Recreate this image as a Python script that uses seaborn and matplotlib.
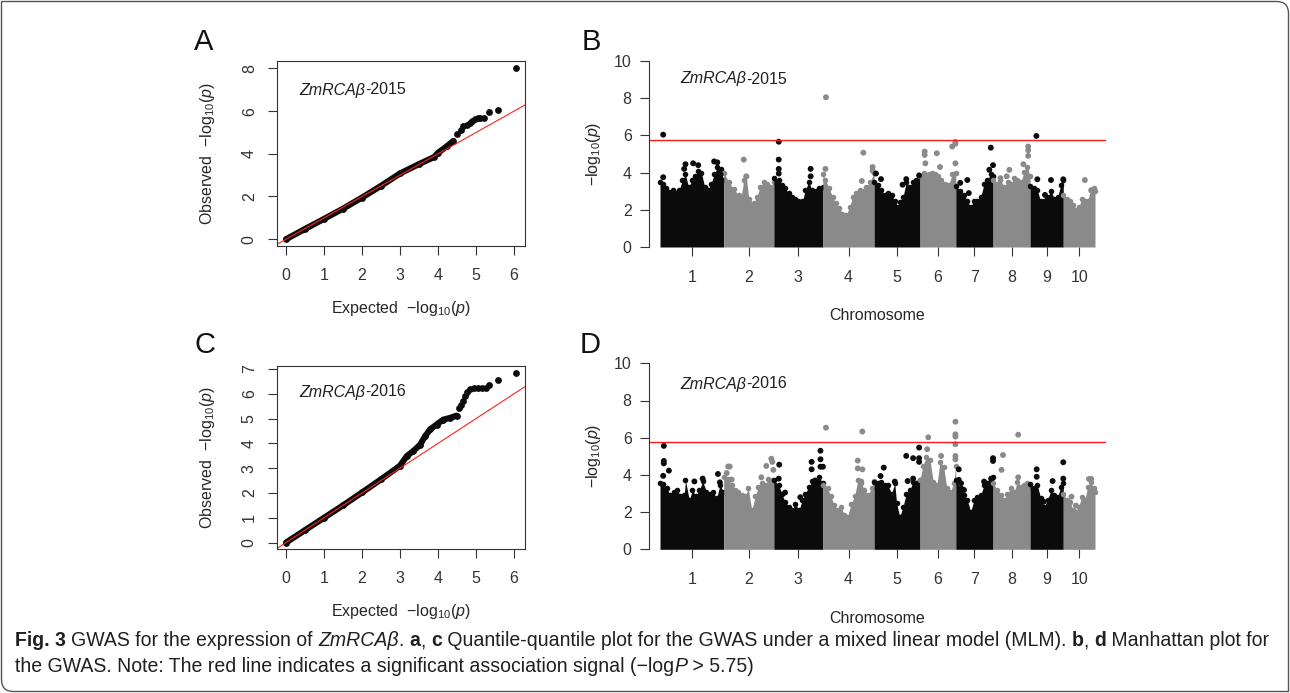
import numpy as np
import pandas as pd
import matplotlib
matplotlib.use('Agg')
import matplotlib.pyplot as plt
import seaborn as sns
from matplotlib.path import Path
from matplotlib.patches import PathPatch

W, H = 1290, 693

# maize chromosome lengths (Mb)
chrom_len = [301, 237, 232, 242, 217, 169, 176, 175, 157, 150]
chrom_names = [str(i) for i in range(1, 11)]
threshold = 5.75

# QQ plot 2015 (expected vs observed -log10 p)
qq15_dense_exp = [0, 0.5, 1.0, 1.5, 2.0, 2.5, 3.0, 3.5, 3.9, 4.0, 4.23, 4.4]
qq15_dense_obs = [0, 0.48, 0.95, 1.43, 1.95, 2.5, 3.08, 3.52, 3.85, 4.05, 4.35, 4.6]
qq15_tail_exp = [4.5, 4.6, 4.67, 4.75, 4.84, 4.9, 4.97, 5.05, 5.1, 5.21, 5.35, 5.57, 6.04]
qq15_tail_obs = [4.95, 5.1, 5.3, 5.35, 5.45, 5.55, 5.65, 5.7, 5.7, 5.7, 5.97, 6.05, 8.03]

# QQ plot 2016
qq16_dense_exp = [0, 0.5, 1.0, 1.5, 2.0, 2.5, 3.0, 3.18, 3.35, 3.53, 3.66, 3.79, 3.96, 4.14, 4.32, 4.49]
qq16_dense_obs = [0, 0.5, 1.0, 1.5, 2.02, 2.55, 3.1, 3.49, 3.69, 3.95, 4.29, 4.56, 4.76, 4.96, 5.03, 5.12]
qq16_tail_exp = [4.54, 4.6, 4.67, 4.72, 4.75, 4.85, 4.95, 5.05, 5.15, 5.25, 5.35, 5.57, 6.05]
qq16_tail_obs = [5.43, 5.55, 5.7, 5.9, 6.06, 6.2, 6.22, 6.22, 6.22, 6.23, 6.35, 6.54, 6.86]

# Manhattan 2015: upper outline of the dense SNP mass per chromosome (fraction along chrom, -log10 p)
bulk_2015 = [
    [(0.0, 3.5), (0.05, 3.4), (0.1, 3.15), (0.2, 3.05), (0.3, 3.05), (0.35, 3.6), (0.4, 3.9), (0.45, 3.2), (0.5, 3.6), (0.55, 3.8), (0.6, 4.1), (0.65, 4.0), (0.7, 3.25), (0.75, 3.05), (0.8, 3.4), (0.85, 3.9), (0.9, 4.3), (0.95, 4.2), (1.0, 3.6)],
    [(0.0, 4.0), (0.1, 3.5), (0.2, 3.1), (0.3, 2.8), (0.35, 2.7), (0.4, 3.6), (0.45, 3.8), (0.5, 2.6), (0.6, 2.35), (0.66, 2.7), (0.73, 3.25), (0.8, 3.5), (0.86, 3.4), (0.93, 3.2), (1.0, 3.5)],
    [(0.0, 3.7), (0.1, 3.6), (0.16, 3.35), (0.23, 3.15), (0.3, 2.9), (0.37, 2.7), (0.44, 2.6), (0.5, 2.5), (0.58, 2.45), (0.64, 3.05), (0.71, 3.5), (0.78, 3.05), (0.85, 3.0), (0.92, 3.15), (1.0, 3.25)],
    [(0.0, 3.9), (0.05, 3.6), (0.12, 3.15), (0.19, 2.7), (0.25, 2.35), (0.32, 2.1), (0.38, 1.8), (0.45, 1.7), (0.52, 2.15), (0.58, 2.7), (0.65, 2.9), (0.72, 3.05), (0.78, 3.0), (0.85, 3.25), (0.92, 3.5), (1.0, 4.0)],
    [(0.0, 3.5), (0.08, 3.35), (0.16, 3.05), (0.23, 2.8), (0.3, 2.9), (0.38, 2.8), (0.45, 2.5), (0.52, 2.15), (0.56, 2.4), (0.63, 2.7), (0.7, 3.5), (0.78, 3.25), (0.85, 3.5), (0.92, 3.6), (1.0, 3.8)],
    [(0.0, 3.8), (0.1, 4.0), (0.24, 3.9), (0.33, 4.0), (0.42, 3.9), (0.5, 3.8), (0.6, 3.6), (0.7, 3.4), (0.8, 3.35), (0.9, 3.9), (1.0, 4.0)],
    [(0.0, 3.3), (0.12, 3.0), (0.22, 2.8), (0.31, 2.5), (0.4, 2.15), (0.49, 2.5), (0.58, 2.5), (0.67, 2.7), (0.76, 3.4), (0.85, 3.6), (0.94, 3.95), (1.0, 3.8)],
    [(0.0, 3.6), (0.12, 3.4), (0.2, 3.6), (0.3, 3.25), (0.4, 3.5), (0.48, 3.4), (0.57, 3.7), (0.66, 3.6), (0.75, 3.5), (0.84, 4.05), (0.93, 4.3), (1.0, 3.8)],
    [(0.0, 3.3), (0.12, 3.15), (0.22, 3.05), (0.32, 2.45), (0.42, 2.5), (0.52, 2.7), (0.63, 3.0), (0.73, 2.6), (0.83, 2.7), (0.93, 3.35), (1.0, 3.6)],
    [(0.0, 2.8), (0.12, 2.6), (0.21, 2.5), (0.31, 2.25), (0.4, 2.0), (0.49, 2.15), (0.58, 2.6), (0.68, 2.45), (0.77, 2.5), (0.86, 3.05), (0.96, 3.15), (1.0, 3.0)],
]
# isolated SNPs above the mass: (chromosome, fraction along chrom, -log10 p)
peaks_2015 = [
    (1, 0.05, 6.04), (1, 0.05, 3.75), (1, 0.4, 4.45), (1, 0.38, 4.2), (1, 0.52, 4.5), (1, 0.6, 4.4), (1, 0.85, 4.6), (1, 0.9, 4.55), (1, 0.95, 3.9),
    (2, 0.4, 4.7), (2, 0.45, 3.8),
    (3, 0.1, 5.66), (3, 0.1, 4.7), (3, 0.1, 4.2), (3, 0.1, 3.95), (3, 0.75, 4.2), (3, 0.75, 3.8),
    (4, 0.06, 8.05), (4, 0.05, 4.2), (4, 0.79, 5.07), (4, 0.76, 3.55), (4, 0.97, 4.3), (4, 0.97, 4.1),
    (5, 0.04, 3.95), (5, 0.15, 3.65), (5, 0.62, 3.35), (5, 0.7, 3.65), (5, 0.98, 3.85),
    (6, 0.13, 5.13), (6, 0.13, 4.95), (6, 0.15, 4.5), (6, 0.47, 5.04), (6, 0.56, 4.3), (6, 0.9, 5.4), (6, 0.99, 5.65), (6, 0.99, 5.55), (6, 0.99, 4.5),
    (7, 0.12, 3.45), (7, 0.31, 3.6), (7, 0.35, 2.9), (7, 0.94, 5.34), (7, 1.0, 4.4), (7, 0.9, 4.15),
    (8, 0.2, 3.7), (8, 0.37, 3.8), (8, 0.44, 4.15), (8, 0.82, 4.45), (8, 0.95, 5.4), (8, 0.95, 5.2), (8, 0.95, 4.9),
    (9, 0.19, 5.97), (9, 0.22, 3.64), (9, 0.45, 2.8), (9, 0.63, 3.6), (9, 1.0, 3.64),
    (10, 0.68, 3.6), (10, 0.88, 3.05),
]

# Manhattan 2016
bulk_2016 = [
    [(0.0, 3.55), (0.05, 3.5), (0.11, 3.3), (0.16, 2.9), (0.22, 3.1), (0.27, 3.2), (0.32, 2.85), (0.38, 2.9), (0.4, 3.7), (0.46, 2.65), (0.51, 3.2), (0.56, 2.85), (0.62, 3.2), (0.67, 3.65), (0.73, 3.1), (0.78, 3.0), (0.83, 3.1), (0.89, 2.75), (0.94, 3.45), (1.0, 3.1)],
    [(0.0, 3.9), (0.09, 3.8), (0.16, 3.45), (0.23, 3.2), (0.29, 3.1), (0.36, 2.9), (0.43, 2.85), (0.49, 3.3), (0.56, 2.1), (0.63, 2.85), (0.69, 3.35), (0.76, 3.55), (0.83, 3.45), (0.89, 3.8), (0.96, 3.75), (1.0, 3.5)],
    [(0.0, 3.7), (0.1, 3.45), (0.16, 3.0), (0.23, 2.55), (0.3, 2.3), (0.37, 2.1), (0.44, 2.45), (0.51, 2.1), (0.58, 2.65), (0.64, 3.0), (0.71, 3.35), (0.78, 3.65), (0.85, 3.65), (0.92, 3.9), (1.0, 3.55)],
    [(0.0, 3.45), (0.09, 3.3), (0.15, 2.85), (0.22, 2.4), (0.28, 2.1), (0.35, 2.3), (0.42, 1.85), (0.48, 1.75), (0.55, 2.45), (0.62, 2.85), (0.68, 3.7), (0.75, 3.55), (0.81, 3.2), (0.88, 2.9), (0.95, 3.3), (1.0, 3.65)],
    [(0.0, 3.64), (0.09, 3.55), (0.16, 3.64), (0.23, 3.45), (0.3, 3.45), (0.38, 3.0), (0.45, 3.55), (0.49, 2.47), (0.56, 1.75), (0.63, 2.3), (0.7, 3.0), (0.78, 3.2), (0.85, 3.64), (0.92, 3.55), (1.0, 3.73)],
    [(0.0, 3.73), (0.08, 4.5), (0.18, 4.98), (0.28, 4.8), (0.37, 3.64), (0.47, 3.46), (0.56, 4.71), (0.66, 4.44), (0.75, 3.28), (0.85, 3.1), (0.94, 3.55), (1.0, 4.5)],
    [(0.0, 3.73), (0.13, 3.28), (0.22, 2.92), (0.31, 2.65), (0.4, 2.03), (0.49, 2.65), (0.58, 2.83), (0.67, 2.92), (0.76, 3.46), (0.85, 3.55), (0.94, 3.73), (1.0, 3.9)],
    [(0.0, 3.55), (0.12, 3.19), (0.21, 2.92), (0.3, 2.65), (0.39, 3.0), (0.48, 3.28), (0.57, 3.1), (0.66, 3.64), (0.75, 3.37), (0.84, 3.46), (0.93, 3.55), (1.0, 3.37)],
    [(0.0, 3.5), (0.12, 3.28), (0.22, 3.46), (0.32, 2.74), (0.42, 2.3), (0.53, 2.65), (0.63, 3.19), (0.73, 2.92), (0.83, 2.83), (0.93, 3.37), (1.0, 3.55)],
    [(0.0, 3.0), (0.12, 2.65), (0.21, 2.56), (0.31, 2.11), (0.4, 2.03), (0.49, 2.3), (0.58, 2.83), (0.68, 2.65), (0.77, 3.37), (0.86, 3.64), (0.96, 3.28), (1.0, 3.1)],
]
peaks_2016 = [
    (1, 0.06, 5.56), (1, 0.06, 4.75), (1, 0.06, 4.62), (1, 0.14, 4.23), (1, 0.05, 3.95), (1, 0.54, 3.65), (1, 0.67, 3.8), (1, 0.91, 4.05), (1, 0.94, 3.6),
    (2, 0.06, 4.1), (2, 0.09, 4.45), (2, 0.12, 4.45), (2, 0.16, 3.75), (2, 0.75, 3.87), (2, 0.85, 4.48), (2, 0.95, 4.87), (2, 0.97, 4.7), (2, 0.99, 4.27),
    (3, 0.11, 4.55), (3, 0.1, 3.8), (3, 0.23, 3.05), (3, 0.54, 2.8), (3, 0.77, 4.7), (3, 0.77, 4.3), (3, 0.84, 3.7), (3, 0.95, 5.3), (3, 0.95, 4.84), (3, 0.95, 4.44), (3, 1.0, 4.44),
    (4, 0.06, 6.54), (4, 0.77, 6.33), (4, 0.68, 4.77), (4, 0.68, 4.35), (4, 0.77, 4.3), (4, 0.75, 3.64),
    (5, 0.21, 4.39), (5, 0.14, 3.94), (5, 0.45, 3.64), (5, 0.7, 5.02), (5, 0.85, 4.9), (5, 0.73, 3.67), (5, 0.85, 3.8), (5, 0.98, 5.47), (5, 0.98, 4.9), (5, 0.98, 4.7),
    (6, 0.23, 6.02), (6, 0.2, 5.38), (6, 0.59, 5.02), (6, 0.99, 6.86), (6, 0.99, 6.18), (6, 0.99, 6.06), (6, 0.99, 5.65), (6, 0.99, 5.02), (6, 0.99, 4.84),
    (7, 0.08, 4.3), (7, 0.08, 3.73), (7, 0.14, 3.55), (7, 0.22, 3.19), (7, 0.76, 3.64), (7, 0.95, 3.8), (7, 1.0, 4.9), (7, 1.0, 4.75),
    (8, 0.27, 5.07), (8, 0.23, 4.27), (8, 0.68, 6.16), (8, 0.68, 3.87),
    (9, 0.2, 4.3), (9, 0.2, 3.9), (9, 0.41, 2.56), (9, 0.68, 3.67), (9, 1.0, 4.68), (9, 1.0, 3.8),
    (10, 0.26, 2.83), (10, 0.4, 2.35), (10, 0.81, 3.78), (10, 0.88, 3.78),
]

sns.set_theme(style='white')
plt.rcParams['font.family'] = ['Liberation Sans', 'DejaVu Sans']
plt.rcParams['mathtext.fontset'] = 'custom'
plt.rcParams['mathtext.rm'] = 'Liberation Sans'
plt.rcParams['mathtext.it'] = 'Liberation Sans:italic'
plt.rcParams['axes.edgecolor'] = '#333333'
plt.rcParams['xtick.color'] = '#333333'
plt.rcParams['ytick.color'] = '#333333'
plt.rcParams['text.color'] = '#1a1a1a'

FS = 11.5
BLACK = '#0b0b0b'
GREY = '#8a8a8a'

fig = plt.figure(figsize=(W / 100, H / 100), dpi=100)
renderer = fig.canvas.get_renderer()


def px_axes(left, top, right, bottom):
    return fig.add_axes([left / W, 1 - bottom / H, (right - left) / W, (bottom - top) / H])


def rich_text(x_px, y_px, pieces, size, family, draw=True):
    # draw text pieces with different styles one after another on a line
    x = x_px
    sp = None
    for txt, style in pieces:
        kw = dict(fontsize=size, family=family,
                  fontweight='bold' if 'b' in style else 'normal',
                  fontstyle='italic' if 'i' in style else 'normal')
        if sp is None:
            a = fig.text(0, 0, 'a a', **kw)
            b = fig.text(0, 0, 'aa', **kw)
            sp = a.get_window_extent(renderer).width - b.get_window_extent(renderer).width
            a.remove(); b.remove()
        core = txt.rstrip(' ')
        t = fig.text(x / W, 1 - y_px / H, core, va='center', ha='left', color='#231f20', **kw)
        x += t.get_window_extent(renderer).width + sp * (len(txt) - len(core))
        if not draw:
            t.remove()
    return x


def qq_panel(ax, dense_e, dense_o, tail_e, tail_o, ymax, yticks):
    ax.plot(dense_e, dense_o, color=BLACK, lw=4.4, solid_capstyle='round', solid_joinstyle='round')
    sns.scatterplot(x=dense_e, y=dense_o, ax=ax, color=BLACK, s=24, linewidth=0)
    sns.scatterplot(x=tail_e, y=tail_o, ax=ax, color=BLACK, s=24, linewidth=0)
    ax.axline((0, 0), slope=1, color='#ff2020', lw=0.8)
    ax.set_xlim(-0.24, 6.29)
    ax.set_ylim(-0.04 * ymax, ymax * 1.04)
    ax.set_xticks(range(7))
    ax.set_yticks(yticks)
    ax.tick_params(axis='both', direction='out', length=6.5, width=0.8, labelsize=FS,
                   bottom=True, left=True, colors='#333333')
    ax.tick_params(axis='x', pad=9)
    ax.tick_params(axis='y', pad=8)
    for lab in ax.get_yticklabels():
        lab.set_rotation(90)
        lab.set_va('center')
    for s in ax.spines.values():
        s.set_linewidth(0.8)
        s.set_color('#333333')
    ax.set_xlabel(r'Expected  $-\mathrm{log}_{10}(p)$', fontsize=FS)
    ax.set_ylabel(r'Observed  $-\mathrm{log}_{10}(p)$', fontsize=FS)
    ax.xaxis.set_label_coords(0.5, -0.34)
    ax.xaxis.label.set_va('center')
    ax.yaxis.set_label_coords(-0.28, 0.5)
    ax.yaxis.label.set_va('center')


starts = np.concatenate([[0], np.cumsum(chrom_len)[:-1]])
total = sum(chrom_len)
mid = starts + np.array(chrom_len) / 2
scale = 435 / total  # pixels per Mb


def manhattan_panel(ax, bulk, peaks):
    for i, env in enumerate(bulk):
        col = BLACK if i % 2 == 0 else GREY
        fr = np.array([p[0] for p in env])
        val = np.array([p[1] for p in env])
        xs = starts[i] + fr * chrom_len[i]
        ax.fill_between(xs, 0, val, color=col, lw=0)
        ax.scatter(xs, val, color=col, s=16, lw=0)
    pk = pd.DataFrame(peaks, columns=['chrom', 'frac', 'logp'])
    pk['pos'] = starts[pk['chrom'] - 1] + pk['frac'] * np.array(chrom_len)[pk['chrom'] - 1]
    pk['colour'] = np.where(pk['chrom'] % 2 == 1, 'odd', 'even')
    sns.scatterplot(data=pk, x='pos', y='logp', hue='colour', palette={'odd': BLACK, 'even': GREY},
                    ax=ax, s=18, linewidth=0, legend=False)
    ax.axhline(threshold, color='#ff1a1a', lw=1.0)
    ax.set_xlim(-11 / scale, total + 11 / scale)
    ax.set_ylim(0, 10)
    ax.set_xticks(mid)
    ax.set_xticklabels(chrom_names)
    ax.set_yticks([0, 2, 4, 6, 8, 10])
    for k in ['top', 'right', 'bottom']:
        ax.spines[k].set_visible(False)
    ax.spines['left'].set_linewidth(0.8)
    ax.spines['left'].set_color('#333333')
    ax.tick_params(axis='both', direction='out', length=6.5, width=0.8, labelsize=FS,
                   bottom=True, left=True, colors='#333333')
    ax.tick_params(axis='x', pad=10)
    ax.tick_params(axis='y', pad=6)
    ax.set_xlabel('Chromosome', fontsize=FS)
    ax.set_ylabel(r'$-\mathrm{log}_{10}(p)$', fontsize=FS)
    ax.xaxis.set_label_coords(0.5, -0.37)
    ax.xaxis.label.set_va('center')
    ax.yaxis.set_label_coords(-0.122, 0.5)
    ax.yaxis.label.set_va('center')


axA = px_axes(277, 61, 525, 246)
qq_panel(axA, qq15_dense_exp, qq15_dense_obs, qq15_tail_exp, qq15_tail_obs, 8.03, [0, 2, 4, 6, 8])
axC = px_axes(277, 365.7, 525, 549.3)
qq_panel(axC, qq16_dense_exp, qq16_dense_obs, qq16_tail_exp, qq16_tail_obs, 6.86, range(8))
axB = px_axes(649, 61, 1106, 247)
manhattan_panel(axB, bulk_2015, peaks_2015)
axD = px_axes(649, 363.3, 1106, 549.3)
manhattan_panel(axD, bulk_2016, peaks_2016)

# panel letters
for letter, (x, y) in zip('ABCD', [(194, 42), (582, 42), (194, 345), (580, 345)]):
    fig.text(x / W, 1 - y / H, letter, fontsize=21, ha='left', va='center', color='#111111')

# trait labels
fam = ['Liberation Sans', 'DejaVu Sans']
for (x, y), year in zip([(299, 90), (680, 79), (299, 392), (680, 384)], ['2015', '2015', '2016', '2016']):
    rich_text(x, y, [('ZmRCAβ', 'i'), ('-' + year, '')], FS, fam)

# caption, sized so the first line spans the frame like in the journal layout
cap_fam = ['Liberation Sans', 'DejaVu Sans']
line1 = [('Fig. 3 ', 'b'), ('GWAS for the expression of ', ''), ('ZmRCAβ', 'i'), ('. ', ''), ('a', 'b'), (', ', ''),
         ('c', 'b'), (' Quantile-quantile plot for the GWAS under a mixed linear model (MLM). ', ''),
         ('b', 'b'), (', ', ''), ('d', 'b'), (' Manhattan plot for', '')]
line2 = [('the GWAS. Note: The red line indicates a significant association signal (\u2212log', ''), ('P', 'i'), (' > 5.75)', '')]
w12 = rich_text(15, 640, line1, 12, cap_fam, draw=False) - 15
cap_size = 12 * 1258 / w12
rich_text(15, 641, line1, cap_size, cap_fam)
rich_text(15, 666, line2, cap_size, cap_fam)

# figure frame, rounded at top-right and bottom-left
r = 12
x0, y0, x1, y1 = 1.5, 1.5, W - 1.5, H - 1.5
verts = [(x0, H - y0), (x1 - r, H - y0), (x1, H - y0), (x1, H - y0 - r), (x1, H - y1),
         (x0 + r, H - y1), (x0, H - y1), (x0, H - y1 + r), (x0, H - y0)]
codes = [Path.MOVETO, Path.LINETO, Path.CURVE3, Path.CURVE3, Path.LINETO,
         Path.LINETO, Path.CURVE3, Path.CURVE3, Path.CLOSEPOLY]
verts = [(vx / W, vy / H) for vx, vy in verts]
fig.patches.append(PathPatch(Path(verts, codes), transform=fig.transFigure, fill=False,
                             edgecolor='#555555', lw=1.0))

fig.savefig('out.png', dpi=100)
